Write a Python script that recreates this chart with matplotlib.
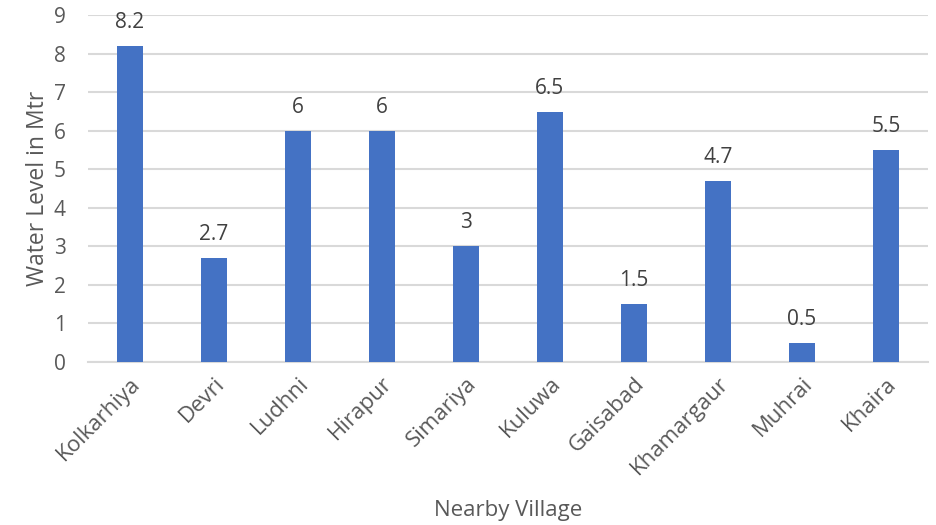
import matplotlib
matplotlib.use("Agg")
import matplotlib.pyplot as plt

villages = ["Kolkarhiya", "Devri", "Ludhni", "Hirapur", "Simariya", "Kuluwa",
            "Gaisabad", "Khamargaur", "Muhrai", "Khaira"]
water_level = [8.2, 2.7, 6, 6, 3, 6.5, 1.5, 4.7, 0.5, 5.5]
value_labels = ["8.2", "2.7", "6", "6", "3", "6.5", "1.5", "4.7", "0.5", "5.5"]
y_ticks = [0, 1, 2, 3, 4, 5, 6, 7, 8, 9]

plt.rcParams['font.family'] = ['Open Sans', 'DejaVu Sans']
txt = '#595959'

fig = plt.figure(figsize=(9.37, 5.25), dpi=100)
ax = fig.add_axes([0.0939, 0.3105, 0.8965, 0.66])

x = list(range(len(villages)))
bars = ax.bar(x, water_level, width=0.31, color='#4472C4', zorder=3)
for b, lab in zip(bars, value_labels):
    ax.annotate(lab, (b.get_x() + b.get_width() / 2, b.get_height()),
                xytext=(0, 9.5), textcoords='offset points', ha='center', va='bottom',
                fontsize=15, color='#404040')

ax.set_xlim(-0.5, len(villages) - 0.5)
ax.set_ylim(0, 9)
ax.set_yticks(y_ticks)
ax.yaxis.grid(True, color='#D9D9D9', linewidth=1.5, zorder=0)
ax.set_axisbelow(True)
for s in ['top', 'right', 'left']:
    ax.spines[s].set_visible(False)
ax.spines['bottom'].set_color('#D9D9D9')
ax.spines['bottom'].set_linewidth(1.5)
ax.tick_params(axis='both', length=0, colors=txt, labelsize=15)
ax.tick_params(axis='x', labelsize=16)
ax.tick_params(axis='y', pad=16)
ax.set_xticks(x)
ax.set_xticklabels(villages, rotation=45, ha='right', rotation_mode='anchor')
ax.tick_params(axis='x', pad=8)
ax.set_ylabel("Water Level in Mtr", fontsize=16.5, color=txt, labelpad=3)
ax.set_xlabel("Nearby Village", fontsize=16, color=txt, labelpad=15)

fig.savefig("out.png", dpi=100)
